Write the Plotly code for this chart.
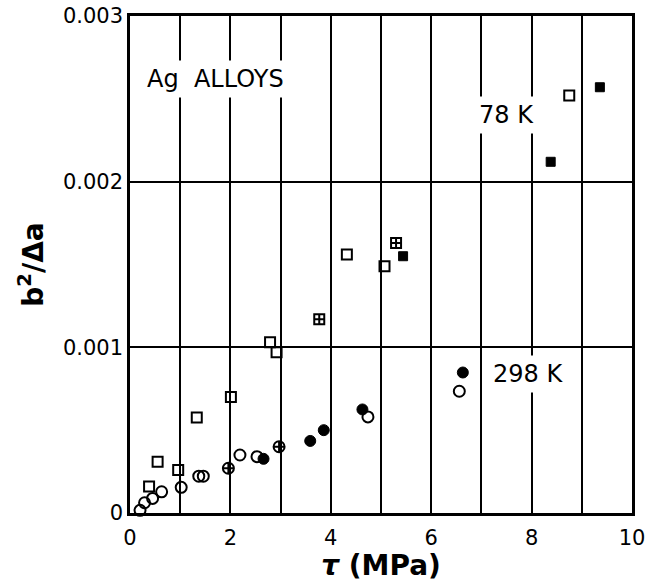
import plotly.graph_objects as go

# ---- 78 K (squares) ----
k78_open_x = [0.38, 0.55, 0.96, 1.33, 2.01, 2.79, 2.92, 4.32, 5.07, 8.75]
k78_open_y = [0.00016, 0.00031, 0.00026, 0.000577, 0.00070, 0.00103, 0.00097, 0.00156, 0.00149, 0.00252]
k78_cross_x = [3.77, 5.30]
k78_cross_y = [0.00117, 0.00163]
k78_filled_x = [5.44, 8.38, 9.36]
k78_filled_y = [0.00155, 0.00212, 0.00257]

# ---- 298 K (circles) ----
k298_open_x = [0.20, 0.29, 0.45, 0.63, 1.02, 1.37, 1.46, 2.19, 2.53, 4.74, 6.56]
k298_open_y = [0.000016, 0.000062, 0.000088, 0.000128, 0.000155, 0.000222, 0.000222,
               0.00035, 0.00034, 0.00058, 0.000735]
k298_cross_x = [1.96, 2.97]
k298_cross_y = [0.00027, 0.00040]
k298_filled_x = [2.66, 3.59, 3.86, 4.63, 6.63]
k298_filled_y = [0.000327, 0.000435, 0.00050, 0.000625, 0.000848]

x_ticks = [0, 2, 4, 6, 8, 10]
y_ticks = [0, 0.001, 0.002, 0.003]
y_ticktext = ["0", "0.001", "0.002", "0.003"]

FONT = "DejaVu Sans, Liberation Sans, sans-serif"

fig = go.Figure()


def add(xs, ys, symbol, size, lw=2):
    fig.add_trace(go.Scatter(
        x=xs, y=ys, mode="markers", showlegend=False, cliponaxis=False,
        marker=dict(symbol=symbol, size=size, color="black",
                    line=dict(color="black", width=lw)),
    ))


add(k78_open_x, k78_open_y, "square-open", 10)
add(k78_cross_x, k78_cross_y, "square-cross-open", 10)
add(k78_filled_x, k78_filled_y, "square", 9, 1)
add(k298_open_x, k298_open_y, "circle-open", 11)
add(k298_cross_x, k298_cross_y, "circle-cross-open", 11)
add(k298_filled_x, k298_filled_y, "circle", 11, 1)

annos = [
    dict(x=0.23, y=0.00262, text="Ag  ALLOYS"),
    dict(x=6.86, y=0.00240, text="78 K"),
    dict(x=7.13, y=0.000842, text="298 K"),
]
for a in annos:
    fig.add_annotation(x=a["x"], y=a["y"], text=a["text"], xanchor="left",
                       yanchor="middle", showarrow=False, bgcolor="white",
                       borderpad=4, font=dict(family=FONT, size=24, color="black"))

fig.update_layout(
    width=648, height=582,
    margin=dict(l=130, r=16, t=16, b=69),
    paper_bgcolor="white", plot_bgcolor="white",
    font=dict(family=FONT, color="black"),
)
fig.update_xaxes(
    range=[0, 10], tickvals=x_ticks, showgrid=True, gridcolor="black", gridwidth=1.5,
    minor=dict(dtick=1, showgrid=True, gridcolor="black", gridwidth=1.5),
    zeroline=False, showline=True, linecolor="black", linewidth=2.5, mirror=True,
    ticks="", ticklabelstandoff=4, automargin=False,
    tickfont=dict(family=FONT, size=21, color="black"),
    title=dict(text="<b><i>τ</i> (MPa)</b>", font=dict(family=FONT, size=28, color="black"),
               standoff=4),
)
fig.update_yaxes(
    range=[0, 0.003], tickvals=y_ticks, ticktext=y_ticktext,
    showgrid=True, gridcolor="black", gridwidth=1.5,
    zeroline=False, showline=True, linecolor="black", linewidth=2.5, mirror=True,
    ticks="", automargin=False, tickfont=dict(family=FONT, size=21, color="black"),
    title=dict(text="<b>b<sup>2</sup>/Δa</b>", font=dict(family=FONT, size=28, color="black"),
               standoff=12),
)

fig.write_html("out.html")
